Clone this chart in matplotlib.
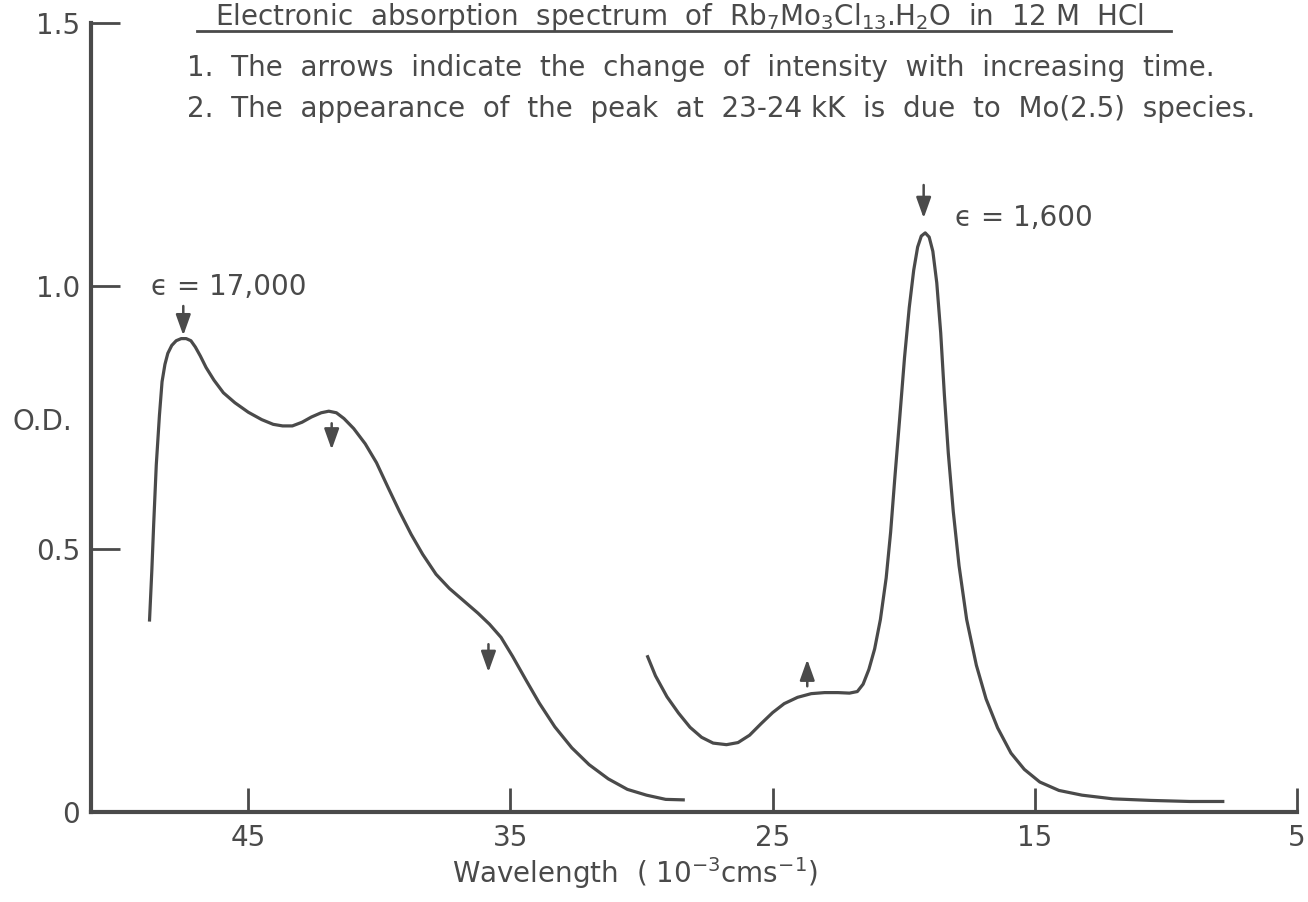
import numpy as np
import matplotlib
matplotlib.use("Agg")
import matplotlib.pyplot as plt

# values (x in kK, y in O.D.)
uv_x = [48.77, 48.68, 48.61, 48.51, 48.39, 48.29, 48.18, 48.07, 47.92, 47.75,
        47.56, 47.37, 47.19, 47.02, 46.83, 46.61, 46.31, 45.95, 45.51, 45.00,
        44.49, 44.05, 43.69, 43.32, 42.95, 42.59, 42.22, 41.93, 41.64, 41.35,
        40.98, 40.54, 40.11, 39.67, 39.23, 38.79, 38.35, 37.84, 37.33, 36.75,
        36.24, 35.80, 35.36, 34.92, 34.41, 33.90, 33.31, 32.66, 32.00, 31.27,
        30.54, 29.81, 29.08, 28.35]
uv_y = [0.362, 0.459, 0.546, 0.660, 0.754, 0.818, 0.851, 0.872, 0.887, 0.896,
        0.900, 0.900, 0.896, 0.884, 0.867, 0.845, 0.821, 0.797, 0.778, 0.760,
        0.746, 0.737, 0.734, 0.734, 0.741, 0.751, 0.759, 0.762, 0.759, 0.748,
        0.729, 0.700, 0.664, 0.617, 0.571, 0.528, 0.490, 0.452, 0.425, 0.400,
        0.378, 0.357, 0.332, 0.296, 0.251, 0.207, 0.162, 0.122, 0.090, 0.063,
        0.043, 0.032, 0.024, 0.023]

vis_x = [29.79, 29.47, 29.03, 28.59, 28.15, 27.71, 27.27, 26.76, 26.32, 25.88,
         25.44, 25.00, 24.56, 24.05, 23.53, 23.02, 22.51, 22.07, 21.77, 21.55,
         21.33, 21.11, 20.89, 20.67, 20.50, 20.34, 20.16, 19.97, 19.79, 19.62,
         19.47, 19.33, 19.18, 19.03, 18.89, 18.74, 18.59, 18.45, 18.30, 18.11,
         17.89, 17.60, 17.23, 16.86, 16.42, 15.91, 15.40, 14.81, 14.08, 13.20,
         12.02, 10.56, 9.09, 7.77]
vis_y = [0.298, 0.259, 0.219, 0.188, 0.161, 0.142, 0.131, 0.128, 0.132, 0.146,
         0.168, 0.189, 0.206, 0.218, 0.225, 0.227, 0.227, 0.226, 0.229, 0.243,
         0.271, 0.310, 0.366, 0.445, 0.532, 0.635, 0.745, 0.864, 0.959, 1.030,
         1.074, 1.095, 1.101, 1.093, 1.066, 1.006, 0.911, 0.793, 0.682, 0.571,
         0.468, 0.366, 0.279, 0.215, 0.160, 0.112, 0.081, 0.057, 0.041, 0.032,
         0.025, 0.022, 0.020, 0.020]

# arrows: x, start y, end y
arrow_x = [47.48, 41.82, 35.84, 23.68, 19.24]
arrow_y0 = [0.962, 0.739, 0.319, 0.239, 1.192]
arrow_y1 = [0.906, 0.689, 0.266, 0.290, 1.129]

x_ticks = [45, 35, 25, 15, 5]
y_ticks = [0, 0.5, 1.0, 1.5]
y_tick_labels = ["0", "0.5", "1.0", "1.5"]

ink = "#4a4a4a"
plt.rcParams["font.family"] = ["DejaVu Sans"]
plt.rcParams["mathtext.fontset"] = "dejavusans"
fs = 20

fig = plt.figure(figsize=(13.08, 9.02), dpi=100)
fig.patch.set_facecolor("white")
ax = fig.add_axes([91 / 1308, 1 - 812 / 902, (1297 - 91) / 1308, (812 - 23) / 902])

ax.plot(uv_x, uv_y, color=ink, lw=2.3, solid_capstyle="butt")
ax.plot(vis_x, vis_y, color=ink, lw=2.3, solid_capstyle="butt")

for x, y0, y1 in zip(arrow_x, arrow_y0, arrow_y1):
    ax.annotate("", xy=(x, y1), xytext=(x, y0),
                arrowprops=dict(arrowstyle="-|>,head_length=0.7,head_width=0.25",
                                color=ink, lw=1.8, shrinkA=0, shrinkB=0,
                                mutation_scale=18))

ax.text(48.72, 0.999, "ϵ = 17,000", color=ink, fontsize=fs, ha="left", va="center")
ax.text(18.04, 1.129, "ϵ = 1,600", color=ink, fontsize=fs, ha="left", va="center")

ax.set_xlim(51, 5)
ax.set_ylim(0, 1.5)
ax.set_xticks(x_ticks)
ax.set_xticklabels([str(t) for t in x_ticks])
ax.set_yticks(y_ticks)
ax.set_yticklabels(y_tick_labels)

for s in ["top", "right"]:
    ax.spines[s].set_visible(False)
for s in ["left", "bottom"]:
    ax.spines[s].set_linewidth(3)
    ax.spines[s].set_color(ink)

ax.tick_params(axis="x", direction="in", length=17, width=2, colors=ink,
               labelsize=fs, pad=9)
ax.tick_params(axis="y", direction="in", length=21, width=2, colors=ink,
               labelsize=fs, pad=8)

ax.text(-0.040, 0.742 / 1.5, "O.D.", transform=ax.transAxes, color=ink,
        fontsize=fs, ha="center", va="center")
ax.text(0.451, -0.077, r"Wavelength  ( 10$^{-3}$cms$^{-1}$)", transform=ax.transAxes,
        color=ink, fontsize=fs, ha="center", va="center")

# heading and notes above the plot
fig.text(215 / 1308, 1 - 25 / 902,
         r"Electronic  absorption  spectrum  of  Rb$_7$Mo$_3$Cl$_{13}$.H$_2$O  in  12 M  HCl",
         color=ink, fontsize=fs, ha="left", va="baseline")
fig.add_artist(plt.Line2D([197 / 1308, 1171 / 1308], [1 - 31 / 902, 1 - 31 / 902],
                          color=ink, lw=2, transform=fig.transFigure))
fig.text(187 / 1308, 1 - 76 / 902,
         "1.  The  arrows  indicate  the  change  of  intensity  with  increasing  time.",
         color=ink, fontsize=fs, ha="left", va="baseline")
fig.text(187 / 1308, 1 - 117 / 902,
         "2.  The  appearance  of  the  peak  at  23-24 kK  is  due  to  Mo(2.5)  species.",
         color=ink, fontsize=fs, ha="left", va="baseline")

fig.savefig("out.png", dpi=100, facecolor="white")
